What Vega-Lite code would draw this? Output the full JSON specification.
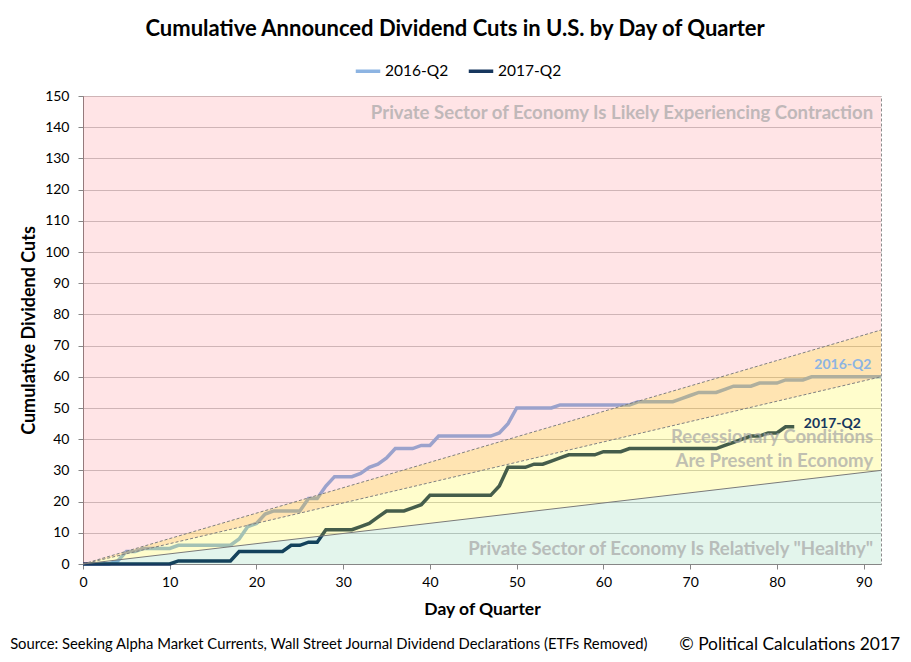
{
  "$schema": "https://vega.github.io/schema/vega-lite/v6.json",
  "width": 798,
  "height": 468,
  "autosize": "none",
  "padding": {"left": 83, "top": 96, "right": 30, "bottom": 98},
  "background": "white",
  "title": {
    "text": "Cumulative Announced Dividend Cuts in U.S. by Day of Quarter",
    "font": "Lato", "fontSize": 22, "fontWeight": "bold", "color": "black",
    "anchor": "middle", "frame": "bounds", "offset": 16
  },
  "datasets": {
    "cuts": [
      {"day": 0, "2016-Q2": 0, "2017-Q2": 0},
      {"day": 1, "2016-Q2": 0, "2017-Q2": 0},
      {"day": 2, "2016-Q2": 0, "2017-Q2": 0},
      {"day": 3, "2016-Q2": 0, "2017-Q2": 0},
      {"day": 4, "2016-Q2": 1, "2017-Q2": 0},
      {"day": 5, "2016-Q2": 4, "2017-Q2": 0},
      {"day": 6, "2016-Q2": 4, "2017-Q2": 0},
      {"day": 7, "2016-Q2": 5, "2017-Q2": 0},
      {"day": 8, "2016-Q2": 5, "2017-Q2": 0},
      {"day": 9, "2016-Q2": 5, "2017-Q2": 0},
      {"day": 10, "2016-Q2": 5, "2017-Q2": 0},
      {"day": 11, "2016-Q2": 6, "2017-Q2": 1},
      {"day": 12, "2016-Q2": 6, "2017-Q2": 1},
      {"day": 13, "2016-Q2": 6, "2017-Q2": 1},
      {"day": 14, "2016-Q2": 6, "2017-Q2": 1},
      {"day": 15, "2016-Q2": 6, "2017-Q2": 1},
      {"day": 16, "2016-Q2": 6, "2017-Q2": 1},
      {"day": 17, "2016-Q2": 6, "2017-Q2": 1},
      {"day": 18, "2016-Q2": 8, "2017-Q2": 4},
      {"day": 19, "2016-Q2": 12, "2017-Q2": 4},
      {"day": 20, "2016-Q2": 13, "2017-Q2": 4},
      {"day": 21, "2016-Q2": 16, "2017-Q2": 4},
      {"day": 22, "2016-Q2": 17, "2017-Q2": 4},
      {"day": 23, "2016-Q2": 17, "2017-Q2": 4},
      {"day": 24, "2016-Q2": 17, "2017-Q2": 6},
      {"day": 25, "2016-Q2": 17, "2017-Q2": 6},
      {"day": 26, "2016-Q2": 21, "2017-Q2": 7},
      {"day": 27, "2016-Q2": 21, "2017-Q2": 7},
      {"day": 28, "2016-Q2": 25, "2017-Q2": 11},
      {"day": 29, "2016-Q2": 28, "2017-Q2": 11},
      {"day": 30, "2016-Q2": 28, "2017-Q2": 11},
      {"day": 31, "2016-Q2": 28, "2017-Q2": 11},
      {"day": 32, "2016-Q2": 29, "2017-Q2": 12},
      {"day": 33, "2016-Q2": 31, "2017-Q2": 13},
      {"day": 34, "2016-Q2": 32, "2017-Q2": 15},
      {"day": 35, "2016-Q2": 34, "2017-Q2": 17},
      {"day": 36, "2016-Q2": 37, "2017-Q2": 17},
      {"day": 37, "2016-Q2": 37, "2017-Q2": 17},
      {"day": 38, "2016-Q2": 37, "2017-Q2": 18},
      {"day": 39, "2016-Q2": 38, "2017-Q2": 19},
      {"day": 40, "2016-Q2": 38, "2017-Q2": 22},
      {"day": 41, "2016-Q2": 41, "2017-Q2": 22},
      {"day": 42, "2016-Q2": 41, "2017-Q2": 22},
      {"day": 43, "2016-Q2": 41, "2017-Q2": 22},
      {"day": 44, "2016-Q2": 41, "2017-Q2": 22},
      {"day": 45, "2016-Q2": 41, "2017-Q2": 22},
      {"day": 46, "2016-Q2": 41, "2017-Q2": 22},
      {"day": 47, "2016-Q2": 41, "2017-Q2": 22},
      {"day": 48, "2016-Q2": 42, "2017-Q2": 25},
      {"day": 49, "2016-Q2": 45, "2017-Q2": 31},
      {"day": 50, "2016-Q2": 50, "2017-Q2": 31},
      {"day": 51, "2016-Q2": 50, "2017-Q2": 31},
      {"day": 52, "2016-Q2": 50, "2017-Q2": 32},
      {"day": 53, "2016-Q2": 50, "2017-Q2": 32},
      {"day": 54, "2016-Q2": 50, "2017-Q2": 33},
      {"day": 55, "2016-Q2": 51, "2017-Q2": 34},
      {"day": 56, "2016-Q2": 51, "2017-Q2": 35},
      {"day": 57, "2016-Q2": 51, "2017-Q2": 35},
      {"day": 58, "2016-Q2": 51, "2017-Q2": 35},
      {"day": 59, "2016-Q2": 51, "2017-Q2": 35},
      {"day": 60, "2016-Q2": 51, "2017-Q2": 36},
      {"day": 61, "2016-Q2": 51, "2017-Q2": 36},
      {"day": 62, "2016-Q2": 51, "2017-Q2": 36},
      {"day": 63, "2016-Q2": 51, "2017-Q2": 37},
      {"day": 64, "2016-Q2": 52, "2017-Q2": 37},
      {"day": 65, "2016-Q2": 52, "2017-Q2": 37},
      {"day": 66, "2016-Q2": 52, "2017-Q2": 37},
      {"day": 67, "2016-Q2": 52, "2017-Q2": 37},
      {"day": 68, "2016-Q2": 52, "2017-Q2": 37},
      {"day": 69, "2016-Q2": 53, "2017-Q2": 37},
      {"day": 70, "2016-Q2": 54, "2017-Q2": 37},
      {"day": 71, "2016-Q2": 55, "2017-Q2": 37},
      {"day": 72, "2016-Q2": 55, "2017-Q2": 37},
      {"day": 73, "2016-Q2": 55, "2017-Q2": 37},
      {"day": 74, "2016-Q2": 56, "2017-Q2": 38},
      {"day": 75, "2016-Q2": 57, "2017-Q2": 39},
      {"day": 76, "2016-Q2": 57, "2017-Q2": 40},
      {"day": 77, "2016-Q2": 57, "2017-Q2": 41},
      {"day": 78, "2016-Q2": 58, "2017-Q2": 41},
      {"day": 79, "2016-Q2": 58, "2017-Q2": 42},
      {"day": 80, "2016-Q2": 58, "2017-Q2": 42},
      {"day": 81, "2016-Q2": 59, "2017-Q2": 44},
      {"day": 82, "2016-Q2": 59, "2017-Q2": 44},
      {"day": 83, "2016-Q2": 59},
      {"day": 84, "2016-Q2": 60},
      {"day": 85, "2016-Q2": 60},
      {"day": 86, "2016-Q2": 60},
      {"day": 87, "2016-Q2": 60},
      {"day": 88, "2016-Q2": 60},
      {"day": 89, "2016-Q2": 60},
      {"day": 90, "2016-Q2": 60},
      {"day": 91, "2016-Q2": 60},
      {"day": 92, "2016-Q2": 60}
    ],
    "zones": [
      {"zone": "contraction", "day": 0, "lo": 0, "hi": 150},
      {"zone": "contraction", "day": 92, "lo": 75, "hi": 150},
      {"zone": "warning", "day": 0, "lo": 0, "hi": 0},
      {"zone": "warning", "day": 92, "lo": 60, "hi": 75},
      {"zone": "recession", "day": 0, "lo": 0, "hi": 0},
      {"zone": "recession", "day": 92, "lo": 30, "hi": 60},
      {"zone": "healthy", "day": 0, "lo": 0, "hi": 0},
      {"zone": "healthy", "day": 92, "lo": 0, "hi": 30}
    ],
    "bounds": [
      {"b": "75", "day": 0, "cuts": 0},
      {"b": "75", "day": 92, "cuts": 75},
      {"b": "60", "day": 0, "cuts": 0},
      {"b": "60", "day": 92, "cuts": 60},
      {"b": "30", "day": 0, "cuts": 0},
      {"b": "30", "day": 92, "cuts": 30}
    ]
  },
  "resolve": {"axis": {"x": "independent", "y": "independent"}},
  "layer": [
    {
      "data": {"name": "cuts"},
      "transform": [{"fold": ["2016-Q2", "2017-Q2"], "as": ["quarter", "cuts"]}],
      "mark": {"type": "line", "strokeWidth": 3.5},
      "encoding": {
        "x": {
          "field": "day", "type": "quantitative",
          "scale": {"domain": [0, 92], "nice": false},
          "axis": {
            "title": "Day of Quarter",
            "values": [0, 10, 20, 30, 40, 50, 60, 70, 80, 90],
            "grid": false, "labelFlush": false,
            "labelPadding": 6, "titlePadding": 11
          }
        },
        "y": {
          "field": "cuts", "type": "quantitative",
          "scale": {"domain": [0, 150], "nice": false},
          "axis": {
            "title": "Cumulative Dividend Cuts",
            "values": [0, 10, 20, 30, 40, 50, 60, 70, 80, 90, 100, 110, 120, 130, 140, 150],
            "grid": true, "labelOverlap": false, "labelPadding": 9, "titlePadding": 6
          }
        },
        "color": {
          "field": "quarter", "type": "nominal",
          "scale": {"domain": ["2016-Q2", "2017-Q2"], "range": ["#8DB4E2", "#17375E"]},
          "legend": {
            "title": null, "orient": "none", "legendX": 271, "legendY": -39,
            "direction": "horizontal",
            "symbolType": "stroke", "symbolStrokeWidth": 3.5, "symbolSize": 600,
            "labelFont": "Lato", "labelFontSize": 15.5, "labelColor": "black",
            "labelOffset": 3, "columnPadding": 12
          }
        }
      }
    },
    {
      "data": {"name": "zones"},
      "transform": [{"filter": "datum.zone === 'contraction'"}],
      "mark": {"type": "area", "color": "#FF3040", "opacity": 0.13},
      "encoding": {
        "x": {"field": "day", "type": "quantitative", "axis": null},
        "y": {"field": "lo", "type": "quantitative", "axis": null},
        "y2": {"field": "hi"}
      }
    },
    {
      "data": {"name": "zones"},
      "transform": [{"filter": "datum.zone === 'warning'"}],
      "mark": {"type": "area", "color": "#FFA500", "opacity": 0.3},
      "encoding": {
        "x": {"field": "day", "type": "quantitative", "axis": null},
        "y": {"field": "lo", "type": "quantitative", "axis": null},
        "y2": {"field": "hi"}
      }
    },
    {
      "data": {"name": "zones"},
      "transform": [{"filter": "datum.zone === 'recession'"}],
      "mark": {"type": "area", "color": "#FFF700", "opacity": 0.2},
      "encoding": {
        "x": {"field": "day", "type": "quantitative", "axis": null},
        "y": {"field": "lo", "type": "quantitative", "axis": null},
        "y2": {"field": "hi"}
      }
    },
    {
      "data": {"name": "zones"},
      "transform": [{"filter": "datum.zone === 'healthy'"}],
      "mark": {"type": "area", "color": "#00A050", "opacity": 0.11},
      "encoding": {
        "x": {"field": "day", "type": "quantitative", "axis": null},
        "y": {"field": "lo", "type": "quantitative", "axis": null},
        "y2": {"field": "hi"}
      }
    },
    {
      "data": {"name": "bounds"},
      "transform": [{"filter": "datum.b !== '30'"}],
      "mark": {"type": "line", "color": "#808080", "strokeWidth": 1, "strokeDash": [3, 2]},
      "encoding": {
        "x": {"field": "day", "type": "quantitative", "axis": null},
        "y": {"field": "cuts", "type": "quantitative", "axis": null},
        "detail": {"field": "b"}
      }
    },
    {
      "data": {"name": "bounds"},
      "transform": [{"filter": "datum.b === '30'"}],
      "mark": {"type": "line", "color": "#7A7A7A", "strokeWidth": 1},
      "encoding": {
        "x": {"field": "day", "type": "quantitative", "axis": null},
        "y": {"field": "cuts", "type": "quantitative", "axis": null}
      }
    },
    {
      "data": {"values": [{}]},
      "mark": {"type": "text", "align": "right", "baseline": "middle", "font": "Lato", "fontSize": 18.6, "fontWeight": "bold", "color": "#A6A6A6", "opacity": 0.7, "text": "Private Sector of Economy Is Likely Experiencing Contraction"},
      "encoding": {"x": {"datum": 91.1, "type": "quantitative", "axis": null}, "y": {"datum": 144.6, "type": "quantitative", "axis": null}}
    },
    {
      "data": {"values": [{}]},
      "mark": {"type": "text", "align": "right", "baseline": "middle", "font": "Lato", "fontSize": 18.6, "fontWeight": "bold", "color": "#A6A6A6", "opacity": 0.7, "text": "Recessionary Conditions"},
      "encoding": {"x": {"datum": 91.1, "type": "quantitative", "axis": null}, "y": {"datum": 40.7, "type": "quantitative", "axis": null}}
    },
    {
      "data": {"values": [{}]},
      "mark": {"type": "text", "align": "right", "baseline": "middle", "font": "Lato", "fontSize": 18.6, "fontWeight": "bold", "color": "#A6A6A6", "opacity": 0.7, "text": "Are Present in Economy"},
      "encoding": {"x": {"datum": 91.1, "type": "quantitative", "axis": null}, "y": {"datum": 33, "type": "quantitative", "axis": null}}
    },
    {
      "data": {"values": [{}]},
      "mark": {"type": "text", "align": "right", "baseline": "middle", "font": "Lato", "fontSize": 18.6, "fontWeight": "bold", "color": "#A6A6A6", "opacity": 0.7, "text": "Private Sector of Economy Is Relatively \"Healthy\""},
      "encoding": {"x": {"datum": 91.1, "type": "quantitative", "axis": null}, "y": {"datum": 4.8, "type": "quantitative", "axis": null}}
    },
    {
      "data": {"values": [{}]},
      "mark": {"type": "text", "align": "right", "baseline": "middle", "font": "Lato", "fontSize": 14, "fontWeight": "bold", "color": "#8DB4E2", "text": "2016-Q2"},
      "encoding": {"x": {"datum": 90.9, "type": "quantitative", "axis": null}, "y": {"datum": 63.8, "type": "quantitative", "axis": null}}
    },
    {
      "data": {"values": [{}]},
      "mark": {"type": "text", "align": "left", "baseline": "middle", "font": "Lato", "fontSize": 14, "fontWeight": "bold", "color": "#17375E", "text": "2017-Q2"},
      "encoding": {"x": {"datum": 83.1, "type": "quantitative", "axis": null}, "y": {"datum": 44.8, "type": "quantitative", "axis": null}}
    },
    {
      "data": {"values": [{}]},
      "mark": {"type": "text", "align": "left", "baseline": "middle", "font": "Lato", "fontSize": 14.8, "color": "black", "text": "Source: Seeking Alpha Market Currents, Wall Street Journal Dividend Declarations (ETFs Removed)"},
      "encoding": {"x": {"datum": -8.4, "type": "quantitative", "axis": null}, "y": {"datum": -26, "type": "quantitative", "axis": null}}
    },
    {
      "data": {"values": [{}]},
      "mark": {"type": "text", "align": "right", "baseline": "middle", "font": "Lato", "fontSize": 17.4, "color": "black", "text": "© Political Calculations 2017"},
      "encoding": {"x": {"datum": 94.2, "type": "quantitative", "axis": null}, "y": {"datum": -26, "type": "quantitative", "axis": null}}
    }
  ],
  "config": {
    "font": "Lato",
    "view": {"stroke": "#8C8C8C", "strokeDash": [3, 2]},
    "axis": {
      "domainColor": "#868686", "tickColor": "#868686", "tickSize": 5,
      "labelFont": "Lato", "labelFontSize": 14, "labelColor": "black",
      "titleFont": "Lato", "titleFontSize": 17.5, "titleFontWeight": "bold", "titleColor": "black",
      "gridColor": "#C8C8C8", "gridWidth": 1
    },
    "axisY": {"titleFontSize": 18}
  }
}
